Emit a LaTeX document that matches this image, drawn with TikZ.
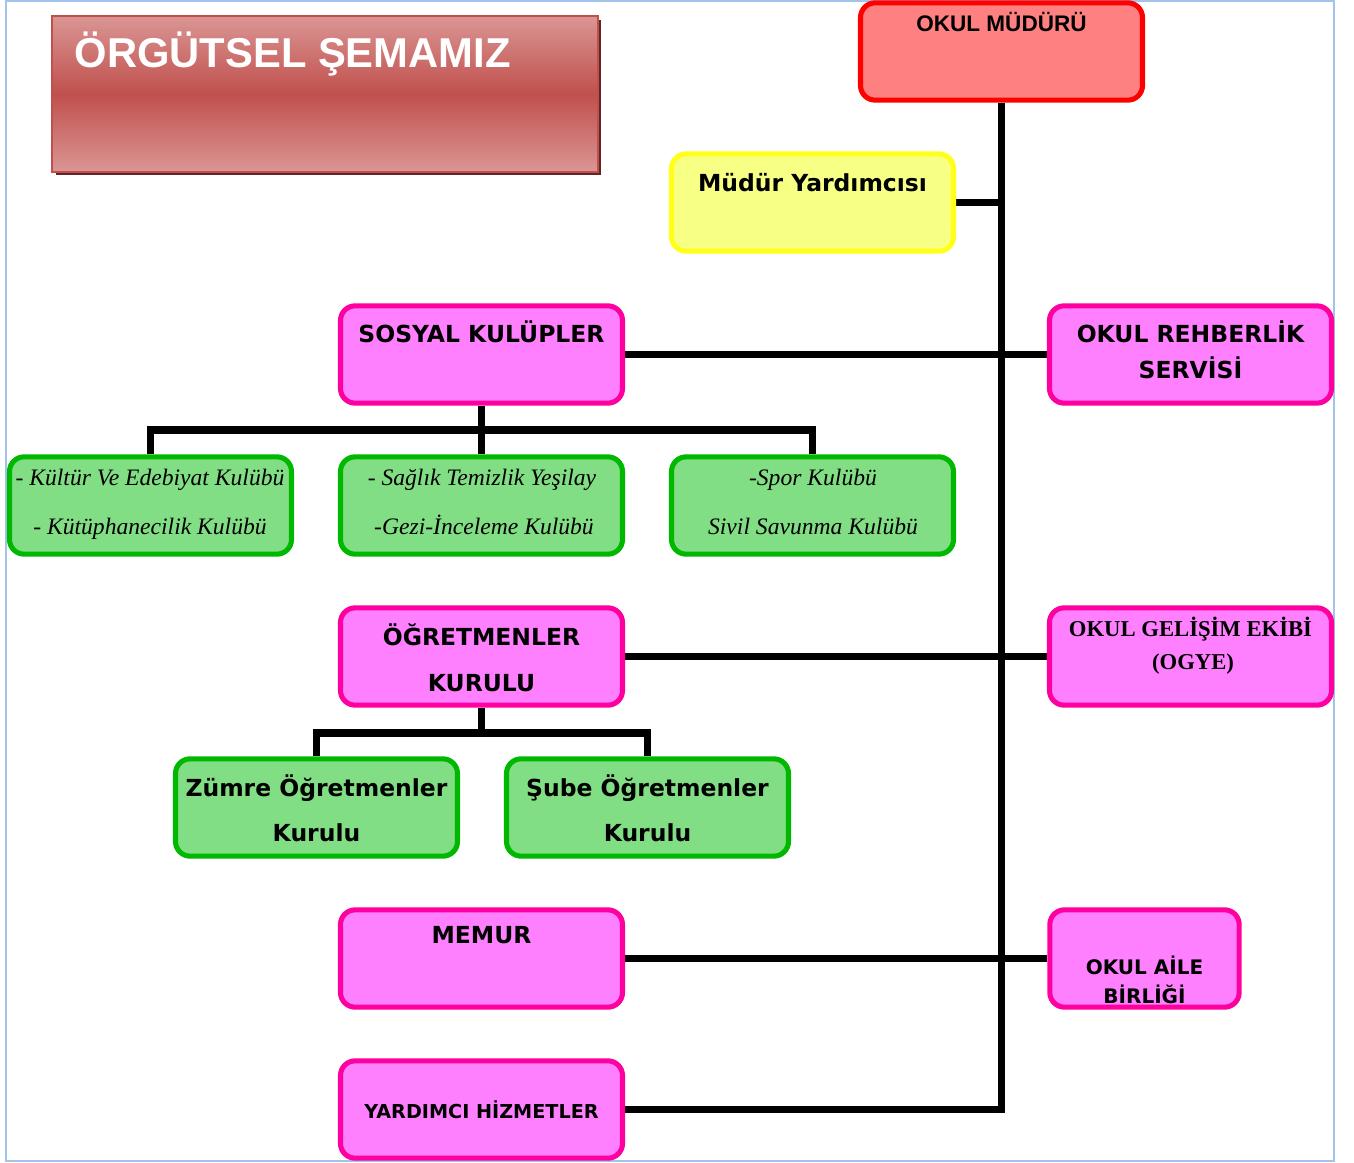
\documentclass[tikz,border=0pt]{standalone}
\usepackage{fontspec}
\setmainfont{Liberation Serif}
\newfontfamily\comic{DejaVu Sans}
\newfontfamily\arial{Liberation Sans}
\usetikzlibrary{backgrounds}
\definecolor{mdfill}{HTML}{FF8080}
\definecolor{mdline}{HTML}{FF0000}
\definecolor{myfill}{HTML}{F7FF85}
\definecolor{myline}{HTML}{FFFF1A}
\definecolor{pkfill}{HTML}{FF80FF}
\definecolor{pkline}{HTML}{FF00A0}
\definecolor{grfill}{HTML}{82DE84}
\definecolor{grline}{HTML}{00B800}
\definecolor{ttlight}{HTML}{DA9694}
\definecolor{ttdark}{HTML}{C0504D}
\definecolor{ttshadow}{HTML}{632423}
\definecolor{pageline}{HTML}{A3C2EC}
\tikzset{
  box/.style={rounded corners=11pt, line width=3.8pt, minimum width=211.5pt, minimum height=73pt, inner sep=0pt},
  pinkbox/.style={box, draw=pkline, fill=pkfill},
  greenbox/.style={box, draw=grline, fill=grfill},
  conn/.style={line width=5.3pt, black},
  ctext/.style={anchor=base, font=\comic\bfseries\fontsize{17.6}{21}\selectfont},
  itext/.style={anchor=base, font=\itshape\fontsize{17.7}{21}\selectfont},
}
\begin{document}
\begin{tikzpicture}[x=0.75pt, y=-0.75pt]
\useasboundingbox (0,0) rectangle (1354,1163);
\draw[pageline, line width=1.5pt] (6,1) rectangle (1334,1161);

% title
\fill[ttshadow] (56,20) rectangle (601,175);
\node[draw=ttdark, line width=1.5pt, top color=ttlight, bottom color=ttlight, middle color=ttdark, minimum width=409.5pt, minimum height=117pt, inner sep=0pt] (title) at (325,94) {};
\node[anchor=base west, text=white, font=\arial\bfseries\fontsize{31.3}{35}\selectfont] (titletext) at (70,68) {ÖRGÜTSEL ŞEMAMIZ};

% boxes
\node[box, draw=mdline, fill=mdfill] (MD) at (1001.5,51.5) {};
\node[box, draw=myline, fill=myfill] (MY) at (812.5,202.5) {};
\node[pinkbox] (SK) at (481.5,354.5) {};
\node[pinkbox] (RS) at (1190.5,354.5) {};
\node[greenbox] (G1) at (150.5,505.5) {};
\node[greenbox] (G2) at (481.5,505.5) {};
\node[greenbox] (G3) at (812.5,505.5) {};
\node[pinkbox] (OK) at (481.5,656.5) {};
\node[pinkbox] (OG) at (1190.5,656.5) {};
\node[greenbox] (Z) at (316.5,807.5) {};
\node[greenbox] (S) at (647.5,807.5) {};
\node[pinkbox] (M) at (481.5,958.5) {};
\node[pinkbox, minimum width=142pt] (A) at (1144.5,958.5) {};
\node[pinkbox] (Y) at (481.5,1109.5) {};

\coordinate (cb) at (481.5,430);
\coordinate (tb) at (481.5,733);

% connectors
\begin{scope}[on background layer]
\draw[conn] (MD.south) |- (Y.east);
\draw[conn] (MY.east) -- (MY.east -| MD.south);
\draw[conn] (SK.east) -- (RS.west);
\draw[conn] (SK.south) -- (G2.north);
\draw[conn] (G1.north) -- (G1.north |- cb) -- (G3.north |- cb) -- (G3.north);
\draw[conn] (OK.east) -- (OG.west);
\draw[conn] (OK.south) -- (tb);
\draw[conn] (Z.north) -- (Z.north |- tb) -- (S.north |- tb) -- (S.north);
\draw[conn] (M.east) -- (A.west);
\end{scope}

% texts
\node[anchor=base, font=\arial\bfseries\fontsize{16.9}{19}\selectfont] (tMD) at (1001.5,32) {OKUL MÜDÜRÜ};
\node[ctext] (tMY) at (812.5,191) {Müdür Yardımcısı};
\node[ctext] (tSK) at (481.5,342) {SOSYAL KULÜPLER};
\node[ctext] (tRS1) at (1190.5,342) {OKUL REHBERLİK};
\node[ctext] (tRS2) at (1190.5,378) {SERVİSİ};
\node[itext] (tG1a) at (150,485) {- Kültür Ve Edebiyat Kulübü};
\node[itext] (tG1b) at (150,534) {- Kütüphanecilik Kulübü};
\node[itext] (tG2a) at (482,485) {- Sağlık Temizlik Yeşilay};
\node[itext] (tG2b) at (484,534) {-Gezi-İnceleme Kulübü};
\node[itext] (tG3a) at (813,485) {-Spor Kulübü};
\node[itext] (tG3b) at (813,534) {Sivil Savunma Kulübü};
\node[ctext] (tOK1) at (481.5,645) {ÖĞRETMENLER};
\node[ctext] (tOK2) at (481.5,691) {KURULU};
\node[anchor=base, font=\bfseries\fontsize{17}{20}\selectfont] (tOG1) at (1190.5,636) {OKUL GELİŞİM EKİBİ};
\node[anchor=base, font=\bfseries\fontsize{17}{20}\selectfont] (tOG2) at (1193,669) {(OGYE)};
\node[ctext] (tZ1) at (316.5,796) {Zümre Öğretmenler};
\node[ctext] (tZ2) at (316.5,841) {Kurulu};
\node[ctext] (tS1) at (647.5,796) {Şube Öğretmenler};
\node[ctext] (tS2) at (647.5,841) {Kurulu};
\node[ctext] (tM) at (481.5,943) {MEMUR};
\node[ctext, font=\comic\bfseries\fontsize{15}{18}\selectfont] (tA1) at (1144.5,974) {OKUL AİLE};
\node[ctext, font=\comic\bfseries\fontsize{15}{18}\selectfont] (tA2) at (1144.5,1003) {BİRLİĞİ};
\node[ctext, font=\comic\bfseries\fontsize{14.4}{17}\selectfont] (tY) at (481.5,1118) {YARDIMCI HİZMETLER};
\end{tikzpicture}
\end{document}
